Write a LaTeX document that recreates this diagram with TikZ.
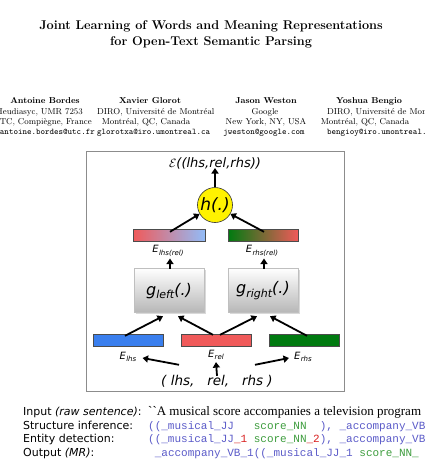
\documentclass[tikz,border=0pt]{standalone}
\usepackage{fontspec}
\usetikzlibrary{arrows.meta,shadows}
\newfontfamily\dejavu{DejaVu Sans}
\newfontfamily\libserif{Liberation Serif}
\newfontfamily\libmono{Liberation Mono}
\definecolor{barblue}{HTML}{3A7FEE}
\definecolor{barred}{HTML}{F05A5A}
\definecolor{bargreen}{HTML}{007A10}
\definecolor{lightblue}{HTML}{92BCF8}
\definecolor{codepurple}{HTML}{5A5AC8}
\definecolor{codegreen}{HTML}{3C9C3C}
\definecolor{codered}{HTML}{D82020}
\newcommand{\Esb}[1]{{\dejavu\itshape\fontsize{10}{11}\selectfont E\kern0.3pt\raisebox{-0.45ex}{\fontsize{7}{8}\selectfont #1}}}
\tikzset{
  bar/.style={draw=black!70, line width=0.4pt, minimum width=70pt, minimum height=12pt, inner sep=0pt},
  gbox/.style={draw=black!25, top color=white, bottom color=black!28, minimum width=70pt, minimum height=44pt, drop shadow={shadow xshift=1.5pt, shadow yshift=-1.5pt, opacity=0.3}},
  arr/.style={line width=1.8pt, -{Triangle[length=5.5pt,width=7pt]}},
  lab/.style={font=\dejavu\fontsize{11}{12}\selectfont, anchor=base west, inner sep=0pt},
  code/.style={font=\libmono\fontsize{11}{12}\selectfont, anchor=base west, inner sep=0pt},
  auth/.style={font=\fontsize{8.6}{10}\selectfont, inner sep=0pt, anchor=base},
  mail/.style={font=\ttfamily\fontsize{8.6}{10}\selectfont, inner sep=0pt, anchor=base}
}
\begin{document}
\begin{tikzpicture}[x=1pt,y=-1pt]
\useasboundingbox (0,0) rectangle (425,467);
\clip (0,0) rectangle (425,467);
% title
\node[font=\bfseries\fontsize{12.7}{15}\selectfont, inner sep=0pt, anchor=base] (t1) at (211,29) {Joint Learning of Words and Meaning Representations};
\node[font=\bfseries\fontsize{12.7}{15}\selectfont, inner sep=0pt, anchor=base] (t2) at (211,45) {for Open-Text Semantic Parsing};
% authors
\node[auth, font=\bfseries\fontsize{8.6}{10}\selectfont] (a1n) at (45,103) {Antoine Bordes};
\node[auth, anchor=base east] (a1a) at (83,114) {Heudiasyc, UMR 7253};
\node[auth, anchor=base east] (a1b) at (92,124) {UTC, Compiègne, France};
\node[mail, anchor=base east] (a1c) at (95,134) {antoine.bordes@utc.fr};
\node[auth, font=\bfseries\fontsize{8.6}{10}\selectfont] (a2n) at (150,103) {Xavier Glorot};
\node[auth, anchor=base west] (a2a) at (97,114) {DIRO, Université de Montréal};
\node[auth] (a2b) at (146,124) {Montréal, QC, Canada};
\node[mail, anchor=base west] (a2c) at (97,134) {glorotxa@iro.umontreal.ca};
\node[auth, font=\bfseries\fontsize{8.6}{10}\selectfont] (a3n) at (266,103) {Jason Weston};
\node[auth] (a3a) at (265,114) {Google};
\node[auth] (a3b) at (266,124) {New York, NY, USA};
\node[mail] (a3c) at (264,134) {jweston@google.com};
\node[auth, font=\bfseries\fontsize{8.6}{10}\selectfont] (a4n) at (369,103) {Yoshua Bengio};
\node[auth, anchor=base west] (a4a) at (327,114) {DIRO, Université de Montréal};
\node[auth] (a4b) at (365,124) {Montréal, QC, Canada};
\node[mail, anchor=base west] (a4c) at (327,134) {bengioy@iro.umontreal.ca};
% frame
\node[draw=black!45, line width=0.8pt, minimum width=258pt, minimum height=240pt, inner sep=0pt] (frame) at (215,271) {};
% diagram
\node[font=\dejavu\itshape\fontsize{13}{15}\selectfont, inner sep=1pt] (E) at (215,163) {$\mathcal{E}$((lhs,rel,rhs))};
\node[circle, draw=black!80, line width=0.6pt, fill=yellow, minimum size=35pt, inner sep=0pt, font=\dejavu\itshape\fontsize{17}{19}\selectfont] (h) at (215,205) {h(.)};
\node[bar, left color=barred, right color=lightblue, minimum width=72pt] (blhs) at (169,235) {};
\node[bar, left color=bargreen, right color=barred] (brhs) at (263,235) {};
\node[inner sep=0pt] (lblhs) at (168,251) {\Esb{lhs(rel)}};
\node[inner sep=0pt] (lbrhs) at (262,251) {\Esb{rhs(rel)}};
\node[gbox] (gl) at (169,290) {};
\node[gbox] (gr) at (263,290) {};
\node[font=\dejavu\itshape\fontsize{16}{18}\selectfont, inner sep=0pt] (glt) at (169,291) {g\raisebox{-0.45ex}{\fontsize{11}{12}\selectfont left}(.)};
\node[font=\dejavu\itshape\fontsize{16}{18}\selectfont, inner sep=0pt] (grt) at (263,291) {g\raisebox{-0.45ex}{\fontsize{11}{12}\selectfont right}(.)};
\node[bar, fill=barblue] (elhs) at (128,340) {};
\node[bar, fill=barred] (erel) at (216,340) {};
\node[bar, fill=bargreen] (erhs) at (304,340) {};
\node[inner sep=0pt] (llhs) at (128,357) {\Esb{lhs}};
\node[inner sep=0pt] (lrel) at (216,355) {\Esb{rel}};
\node[inner sep=0pt] (lrhs) at (303,357) {\Esb{rhs}};
\node[font=\dejavu\itshape\fontsize{13.5}{15}\selectfont, inner sep=0pt] (trip) at (217,381) {( lhs,\ \ \ rel,\ \ \ rhs )};
% arrows
\draw[arr] ([xshift=-38pt,yshift=10pt]trip.north) -- ([xshift=6pt,yshift=-1pt]llhs.east);
\draw[arr] ([xshift=38pt,yshift=10pt]trip.north) -- ([xshift=-5pt,yshift=-1pt]lrhs.west);
\draw[arr] ([yshift=-1pt]trip.north) -- ([yshift=-2pt]lrel.south);
\draw[arr] ([xshift=-3pt,yshift=-2pt]elhs.north) -- ([xshift=-6pt,yshift=-4pt]gl.south);
\draw[arr] ([xshift=-3pt,yshift=-1pt]erel.north) -- ([xshift=9pt,yshift=-4pt]gl.south);
\draw[arr] ([xshift=4pt,yshift=-1pt]erel.north) -- ([xshift=-6pt,yshift=-4pt]gr.south);
\draw[arr] ([xshift=3pt,yshift=-2pt]erhs.north) -- ([xshift=7pt,yshift=-4pt]gr.south);
\draw[arr] ([xshift=1pt,yshift=-1pt]gl.north) -- ([xshift=2pt,yshift=-2pt]lblhs.south);
\draw[arr] ([xshift=1pt,yshift=-1pt]gr.north) -- ([xshift=2pt,yshift=-2pt]lbrhs.south);
\draw[arr] ([xshift=1pt,yshift=-3pt]blhs.north) -- (h.210);
\draw[arr] ([xshift=1pt,yshift=-3pt]brhs.north) -- (h.330);
\draw[arr] (h.north) -- ([yshift=2pt]E.south);
% bottom text
\node[lab] (r1) at (23,415) {Input \textit{(raw sentence)}:};
\node[lab] (r2) at (23,429) {Structure inference:};
\node[lab] (r3) at (23,442) {Entity detection:};
\node[lab] (r4) at (23,456) {Output \textit{(MR)}:};
\node[font=\libserif\fontsize{13}{14}\selectfont, anchor=base west, inner sep=0pt] (c1) at (148,415) {``A musical score accompanies a television program};
\node[code] (c2) at (148,429) {\color{codepurple}((\_musical\_JJ\ \ \ \color{codegreen}score\_NN\ \ \color{codepurple}),\ \_accompany\_VB};
\node[code] (c3) at (148,442) {\color{codepurple}((\_musical\_JJ\color{codered}\_1\ \color{codegreen}score\_NN\color{codered}\_2\color{codepurple}),\ \_accompany\_VB};
\node[code] (c4) at (148,456) {\ \color{codepurple}\_accompany\_VB\_1((\_musical\_JJ\_1\ \color{codegreen}score\_NN\_};
\end{tikzpicture}
\end{document}
